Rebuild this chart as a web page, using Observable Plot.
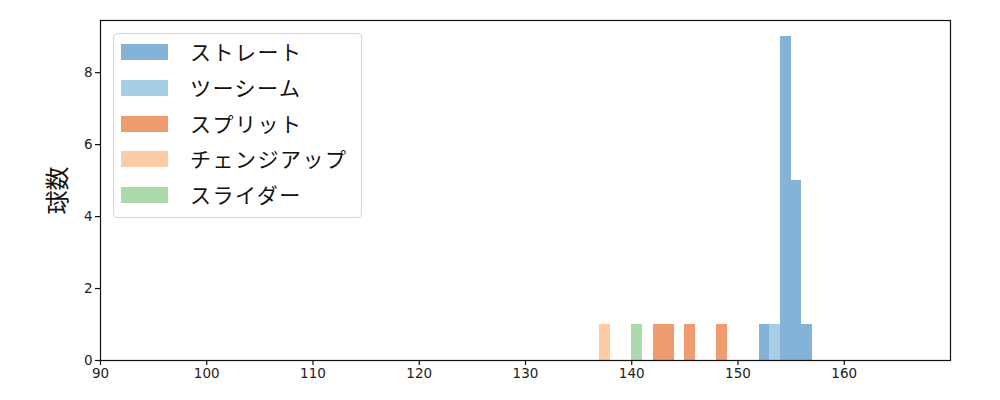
<!DOCTYPE html>
<html>
<head>
<meta charset="utf-8">
<script src="https://cdn.jsdelivr.net/npm/d3@7"></script>
<script src="https://cdn.jsdelivr.net/npm/@observablehq/plot@0.6"></script>
<style>
  body { margin: 0; background: #fff; }
  #wrap { position: relative; width: 1000px; height: 400px; }
  #legend {
    position: absolute; left: 113px; top: 33px; width: 249px; height: 185px;
    border: 1px solid #d5d5d5; border-radius: 4px; background: rgba(255,255,255,0.8);
    font-family: "Noto Sans CJK JP", sans-serif; font-size: 21px; color: #111;
    box-sizing: border-box;
  }
  .row { position: absolute; left: 0; height: 16px; }
  .sw { position: absolute; left: 7px; top: 0; width: 47px; height: 16px; }
  .lb { position: absolute; left: 76px; top: -8px; line-height: 30px; white-space: nowrap; letter-spacing: 1.5px; }
</style>
</head>
<body>
<div id="wrap"><div id="chart"></div><div id="legend"></div></div>
<script>
const pitchTypes = ["ストレート", "ツーシーム", "スプリット", "チェンジアップ", "スライダー"];
const pitchColors = ["#85b3d8", "#a6cee4", "#f09a6f", "#fdcca5", "#acdaad"];
const binWidth = 1;
// bin start speeds (km/h) and counts per pitch type
const straightBins = [152, 154, 155, 156];
const straightCounts = [1, 9, 5, 1];
const twoSeamBins = [153];
const twoSeamCounts = [1];
const splitBins = [142, 143, 145, 148];
const splitCounts = [1, 1, 1, 1];
const changeupBins = [137];
const changeupCounts = [1];
const sliderBins = [140];
const sliderCounts = [1];
const xTicks = [90, 100, 110, 120, 130, 140, 150, 160];
const yTicks = [0, 2, 4, 6, 8];

const series = [
  [straightBins, straightCounts],
  [twoSeamBins, twoSeamCounts],
  [splitBins, splitCounts],
  [changeupBins, changeupCounts],
  [sliderBins, sliderCounts]
];
const rows = [];
series.forEach(([bins, counts], i) => {
  bins.forEach((b, j) => rows.push({type: pitchTypes[i], x1: b, x2: b + binWidth, y: counts[j]}));
});

const chart = Plot.plot({
  width: 1000, height: 400,
  marginLeft: 100, marginRight: 50, marginTop: 20, marginBottom: 40,
  style: {fontFamily: "DejaVu Sans, sans-serif", color: "#222", background: "#fff"},
  x: {domain: [90, 170]},
  y: {domain: [0, 9.45]},
  color: {domain: pitchTypes, range: pitchColors},
  marks: [
    Plot.rectY(rows, {x1: "x1", x2: "x2", y: "y", fill: "type", inset: 0, shapeRendering: "crispEdges"}),
    Plot.frame({stroke: "#111", strokeWidth: 1.2}),
    Plot.axisX({ticks: xTicks, tickSize: 5, tickPadding: 3, fontSize: 13.5, label: null, stroke: "#111", strokeWidth: 1.2}),
    Plot.axisY({ticks: yTicks, tickSize: 5, tickPadding: 3, fontSize: 13.5, label: null, stroke: "#111", strokeWidth: 1.2}),
    Plot.text(["球数"], {frameAnchor: "left", textAnchor: "middle", rotate: -90, dx: -42, fontSize: 24, fontFamily: "Noto Sans CJK JP", fill: "#111"})
  ]
});
document.getElementById("chart").appendChild(chart);

const legend = document.getElementById("legend");
pitchTypes.forEach((t, i) => {
  const r = document.createElement("div");
  r.className = "row";
  r.style.top = (10 + i * 35.8) + "px";
  r.innerHTML = `<div class="sw" style="background:${pitchColors[i]}"></div><div class="lb">${t}</div>`;
  legend.appendChild(r);
});
</script>
</body>
</html>
